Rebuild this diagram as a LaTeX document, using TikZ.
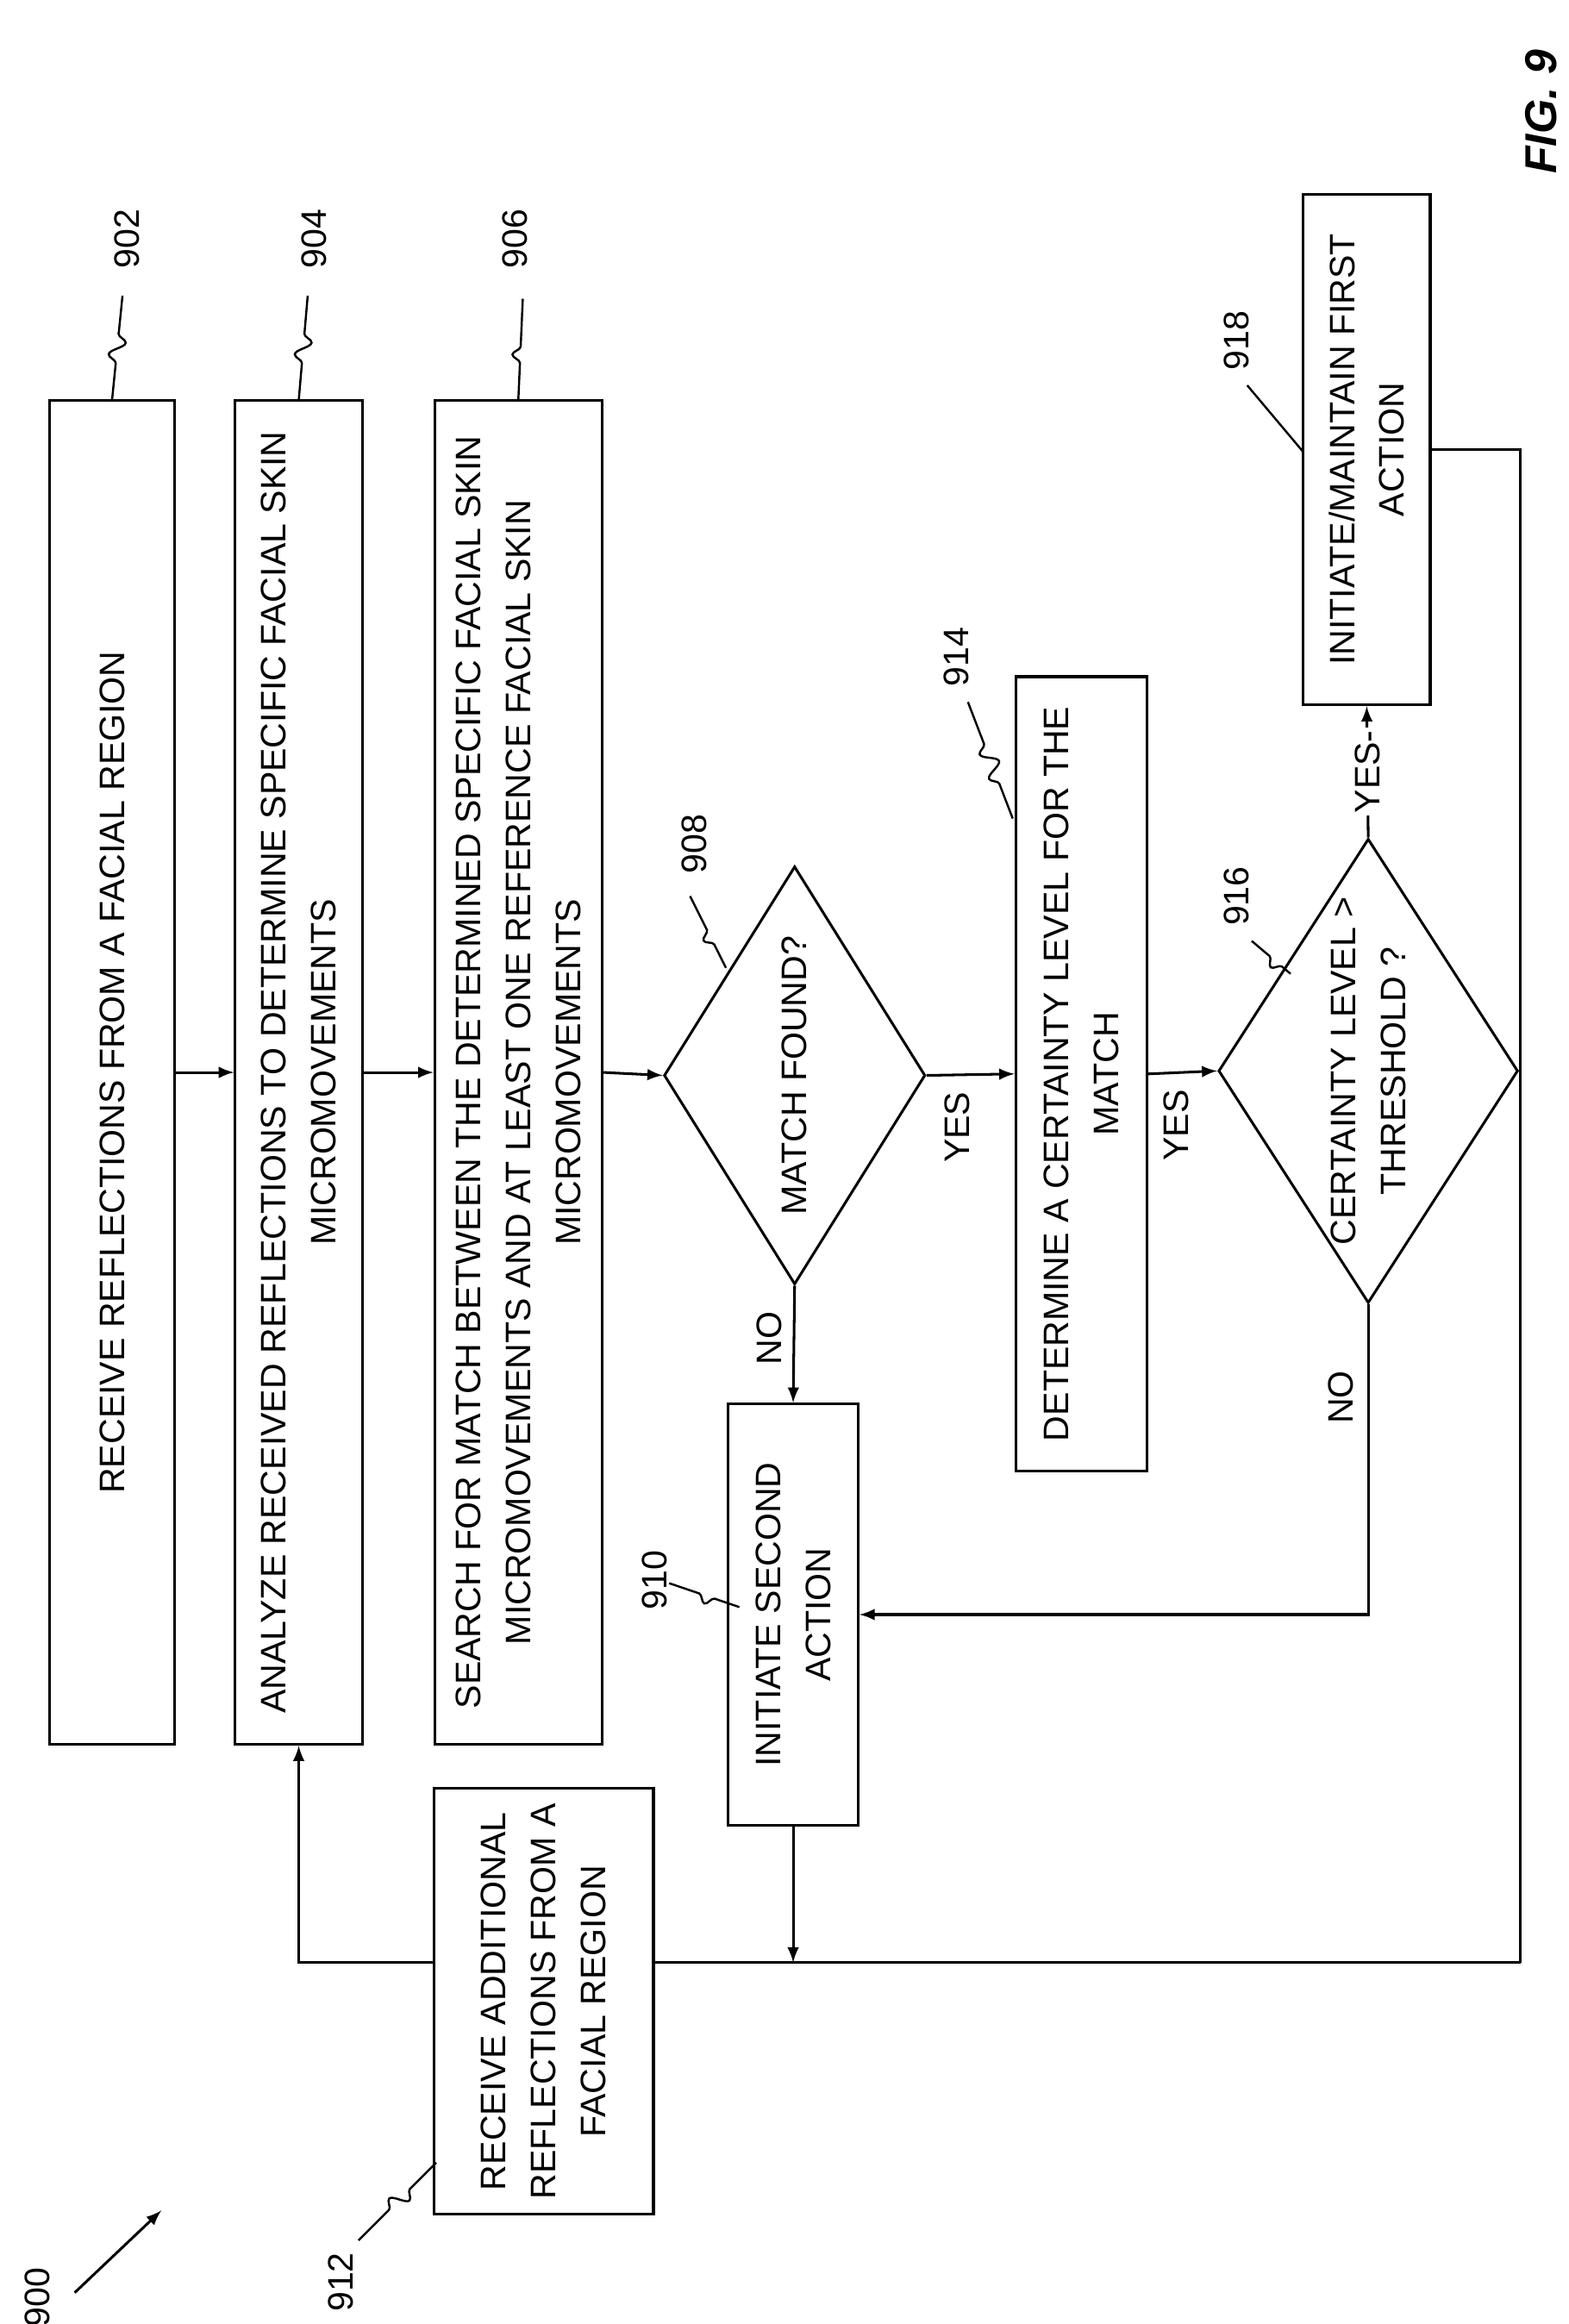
\documentclass[tikz,border=0pt]{standalone}
\usepackage{fontspec}
\setmainfont{Liberation Sans}
\usetikzlibrary{shapes.geometric,decorations.pathmorphing}
\tikzset{
  box/.style={draw, line width=1pt, rotate=90, align=center, inner sep=2pt, fill=white},
  dec/.style={draw, line width=1pt, diamond, rotate=90, align=center, inner sep=0pt, aspect=1.55},
  flow/.style={line width=1pt, -latex},
  ref/.style={rotate=90},
  squig/.style={line width=0.8pt, decorate, decoration={snake, amplitude=3pt, segment length=0.35cm, pre length=#1, post length=#1}},
  squig/.default=0.5cm
}
\begin{document}
\begin{tikzpicture}[x=0.02cm, y=0.02cm, font=\fontsize{13.5}{19}\selectfont]
\useasboundingbox (0,0) rectangle (1050,-1556);
% loop back line first
\coordinate (loop) at (1018,-1314) ;
% boxes
\node[box, minimum width=18cm, minimum height=1.68cm] (b902) at (75,-718) {RECEIVE REFLECTIONS FROM A FACIAL REGION} ;
\node[box, minimum width=18cm, minimum height=1.7cm] (b904) at (200,-718) {ANALYZE RECEIVED REFLECTIONS TO DETERMINE SPECIFIC FACIAL SKIN\\ MICROMOVEMENTS} ;
\node[box, minimum width=18cm, minimum height=2.24cm] (b906) at (347,-718) {SEARCH FOR MATCH BETWEEN THE DETERMINED SPECIFIC FACIAL SKIN\\ MICROMOVEMENTS AND AT LEAST ONE REFERENCE FACIAL SKIN\\ MICROMOVEMENTS} ;
\node[dec, minimum width=5.6cm, minimum height=3.5cm] (d908) at (532,-720) {MATCH FOUND?} ;
\node[box, minimum width=5.64cm, minimum height=1.74cm] (b910) at (531,-1081) {INITIATE SECOND\\ ACTION} ;
\node[box, minimum width=10.64cm, minimum height=1.76cm] (b914) at (724,-719) {DETERMINE A CERTAINTY LEVEL FOR THE\\ MATCH} ;
\node[dec, minimum width=6.1cm, minimum height=3.8cm] (d916) at (916,-717) {CERTAINTY LEVEL >\\ THRESHOLD ?} ;
\node[box, minimum width=6.84cm, minimum height=1.7cm] (b918) at (915,-301) {INITIATE/MAINTAIN FIRST\\ ACTION} ;
% connectors
\draw[flow] (b902.south) -- (b904.north) ;
\draw[flow] (b904.south) -- (b906.north) ;
\draw[flow] (b906.south) -- (d908.north) ;
\draw[flow] (d908.south) -- node[ref, anchor=east, pos=0.35, inner sep=6pt] {YES} (b914.north) ;
\draw[flow] (d908.west) -- node[ref, anchor=south, pos=0.45, inner sep=4pt] {NO} (b910.east) ;
\draw[flow] (b914.south) -- node[ref, anchor=east, pos=0.4, inner sep=6pt] {YES} (d916.north) ;
\draw[flow] (d916.east) -- node[ref, fill=white, inner sep=1pt] {YES-} (b918.west) ;
\draw[flow] (d916.west) |- node[ref, pos=0.15, anchor=south, inner sep=5pt] {NO} (b910.south) ;
\draw[line width=1pt] (b918.south) -- (b918.south -| loop) -- (loop) ;
\draw[flow] (loop) -- (loop -| b904) -- (b904.west) ;
\draw[flow] (b910.west) -- (b910.west |- loop) ;
\node[box, minimum width=5.7cm, minimum height=2.94cm] (b912) at (364,-1340) {RECEIVE ADDITIONAL\\ REFLECTIONS FROM A\\ FACIAL REGION} ;
% reference numerals
\node[ref] (n902) at (85,-160) {902} ;
\node[ref] (n904) at (210,-160) {904} ;
\node[ref] (n906) at (345,-160) {906} ;
\node[ref] (n908) at (465,-565) {908} ;
\node[ref] (n910) at (438,-1058) {910} ;
\node[ref] (n912) at (228,-1528) {912} ;
\node[ref] (n914) at (640,-440) {914} ;
\node[ref] (n916) at (828,-600) {916} ;
\node[ref] (n918) at (828,-228) {918} ;
\node[ref] (n900) at (25,-1538) {900} ;
\node[ref, font=\fontsize{17}{20}\selectfont\bfseries\itshape] (fig) at (1032,-75) {FIG. 9} ;
\draw[squig] (75,-268) -- (82,-198) ;
\draw[squig] (200,-268) -- (206,-198) ;
\draw[squig] (347,-268) -- (350,-200) ;
\draw[squig=0.35cm] (486,-648) -- (462,-600) ;
\draw[squig=0.35cm] (495,-1076) -- (448,-1060) ;
\draw[squig] (292,-1448) -- (240,-1500) ;
\draw[squig] (678,-548) -- (648,-470) ;
\draw[squig=0.15cm] (864,-652) -- (838,-630) ;
\draw[squig] (872,-302) -- (835,-258) ;
\draw[line width=1pt, -latex] (50,-1535) -- (108,-1480) ;
\end{tikzpicture}
\end{document}
